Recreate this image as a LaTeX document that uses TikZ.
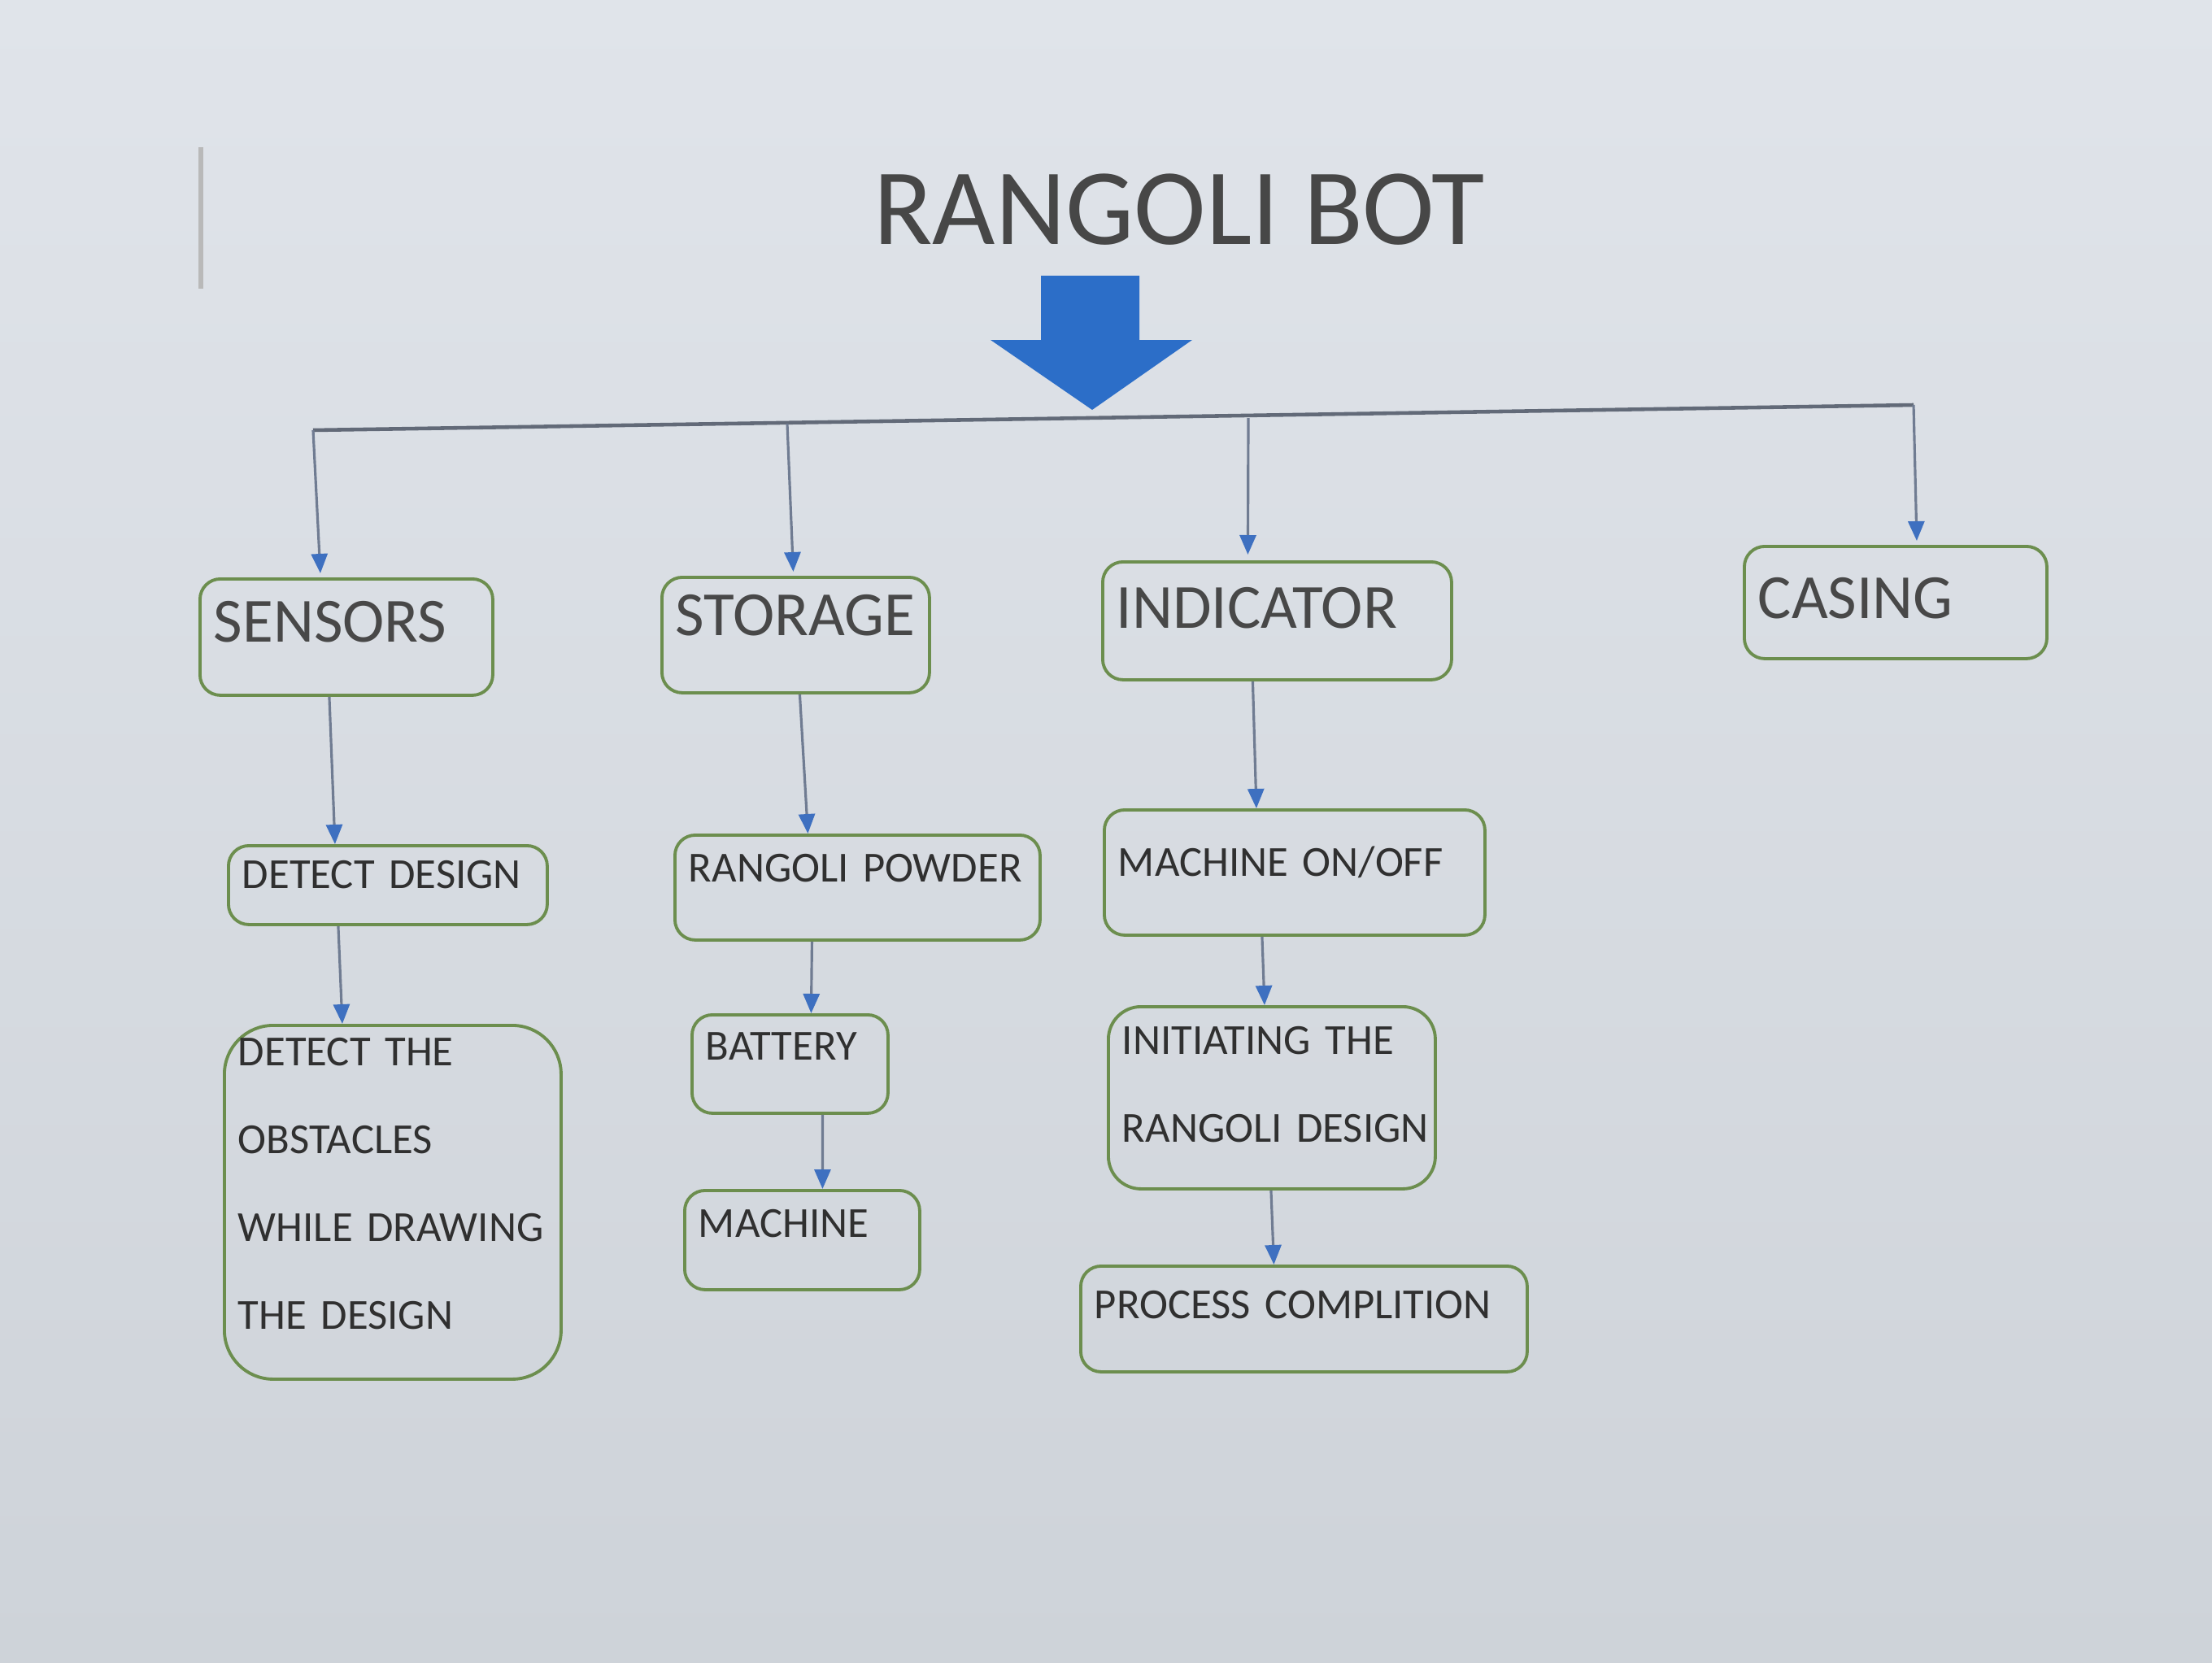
\documentclass[tikz,border=0pt]{standalone}
\usepackage{fontspec}
\setmainfont{Carlito}
\usepackage{xcolor}
\usepackage{tikz}
\usetikzlibrary{positioning, shapes, arrows.meta}
\definecolor{screentop}{RGB}{224,228,234}
\definecolor{screenbottom}{RGB}{206,211,217}
\definecolor{boxgreen}{RGB}{108,142,78}
\definecolor{linegray}{RGB}{112,124,146}
\definecolor{busgray}{RGB}{98,106,120}
\definecolor{tipblue}{RGB}{62,112,192}
\definecolor{bigblue}{RGB}{44,110,200}
\definecolor{headgray}{RGB}{72,72,72}
\definecolor{smallgray}{RGB}{48,48,48}

\begin{document}
\begin{tikzpicture}[
        x=1cm, y=-1cm,
        stage/.style={draw=boxgreen, line width=1.1pt, rounded corners=0.25cm, anchor=north west,
            align=left, inner xsep=0.17cm, inner ysep=0pt},
        head/.style={stage, text=headgray, font=\fontsize{22}{26}\selectfont},
        small/.style={stage, text=smallgray, font=\fontsize{15}{30.7}\selectfont},
        link/.style={draw=linegray, line width=0.9pt, -{Triangle[length=0.24cm, width=0.2cm, color=tipblue]}},
        bus/.style={draw=busgray, line width=1.3pt},
        title/.style={anchor=base west, text=black!72, font=\fontsize{38}{44}\selectfont}
    ]
    
    % Screen
    \useasboundingbox (0,0) rectangle (27.2,20.44);
    \shade[top color=screentop, bottom color=screenbottom] (0,0) rectangle (27.2,20.44);
    \draw[gray!55, line width=1.6pt] (2.47,1.81) -- (2.47,3.55);
    
    % Title and block arrow
    \node[title] (title) at (10.62,3.00) {RANGOLI BOT};
    \fill[bigblue] (12.80,3.39) -- (14.01,3.39) -- (14.01,4.18) -- (14.66,4.18)
        -- (13.43,5.04) -- (12.18,4.18) -- (12.80,4.18) -- cycle;
    
    % Main blocks
    \node[head, text width=3.26cm, text height=0.78cm, text depth=0.65cm] (sensors) at (2.44,7.10) {SENSORS};
    \node[head, text width=2.95cm, text height=0.72cm, text depth=0.70cm] (storage) at (8.12,7.08) {STORAGE};
    \node[head, text width=3.95cm, text height=0.82cm, text depth=0.63cm] (indicator) at (13.54,6.89) {INDICATOR};
    \node[head, text width=3.38cm, text height=0.89cm, text depth=0.49cm] (casing) at (21.43,6.70) {CASING};
    
    % Sub blocks
    \node[small, text width=3.58cm, text height=0.53cm, text depth=0.44cm] (design) at (2.79,10.38) {\mbox{DETECT DESIGN}};
    \node[small, rounded corners=0.6cm, text width=3.80cm, text height=0.50cm, text depth=3.85cm] (obstacles) at (2.74,12.59)
        {DETECT THE\\OBSTACLES\\\mbox{WHILE DRAWING}\\THE DESIGN};
    \node[small, text width=4.15cm, text height=0.58cm, text depth=0.71cm] (powder) at (8.28,10.25) {\mbox{RANGOLI POWDER}};
    \node[small, text width=2.07cm, text height=0.56cm, text depth=0.65cm] (battery) at (8.49,12.46) {BATTERY};
    \node[small, text width=2.55cm, text height=0.58cm, text depth=0.64cm] (machine) at (8.40,14.62) {MACHINE};
    \node[small, text width=4.34cm, text height=0.82cm, text depth=0.72cm] (onoff) at (13.56,9.94) {\mbox{MACHINE ON/OFF}};
    \node[small, rounded corners=0.4cm, text width=3.68cm, text height=0.59cm, text depth=1.65cm] (initiate) at (13.61,12.36)
        {\mbox{INITIATING THE}\\\mbox{RANGOLI DESIGN}};
    \node[small, text width=5.15cm, text height=0.65cm, text depth=0.65cm] (completion) at (13.27,15.55) {\mbox{PROCESS COMPLITION}};
    
    % Branch line
    \coordinate (tapS) at (3.85,5.29);
    \coordinate (tapT) at (9.68,5.21);
    \coordinate (tapI) at (15.35,5.14);
    \coordinate (tapC) at (23.53,4.98);
    \draw[bus] (tapS) -- (tapC);
    \draw[link] (tapS) -- ([xshift=-3.2mm, yshift=0.5mm]sensors.north);
    \draw[link] (tapT) -- ([xshift=-0.3mm, yshift=0.5mm]storage.north);
    \draw[link] (tapI) -- ([xshift=-3.6mm, yshift=0.7mm]indicator.north);
    \draw[link] (tapC) -- ([xshift=2.6mm, yshift=0.5mm]casing.north);
    
    % Arrows
    \draw[link] ([xshift=-2.1mm]sensors.south) -- ([xshift=-6.5mm]design.north);
    \draw[link] ([xshift=-6.1mm]design.south) -- ([xshift=-6.2mm]obstacles.north);
    \draw[link] ([xshift=0.5mm]storage.south) -- ([xshift=-6.1mm]powder.north);
    \draw[link] ([xshift=-5.6mm]powder.south) -- ([xshift=2.6mm]battery.north);
    \draw[link] ([xshift=4mm]battery.south) -- ([xshift=2.5mm]machine.north);
    \draw[link] ([xshift=-3mm]indicator.south) -- ([xshift=-4.7mm]onoff.north);
    \draw[link] ([xshift=-4mm]onoff.south) -- ([xshift=-0.9mm]initiate.north);
    \draw[link] ([xshift=-0.1mm]initiate.south) -- ([xshift=-3.7mm]completion.north);
    
\end{tikzpicture}
\end{document}
